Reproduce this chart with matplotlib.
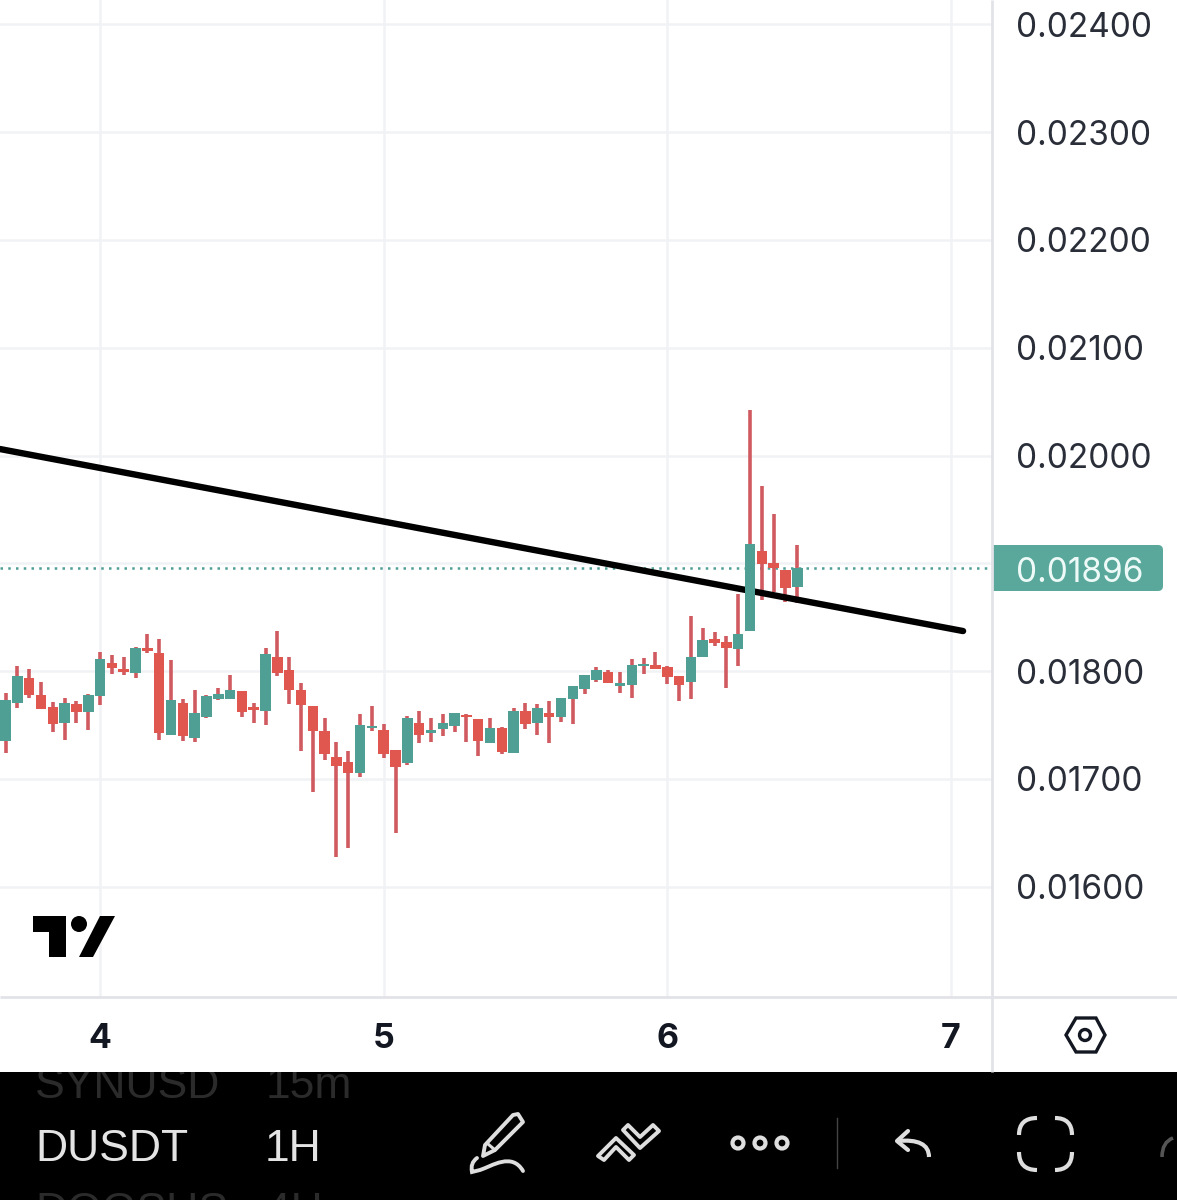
import matplotlib
matplotlib.use('Agg')
import matplotlib.pyplot as plt
from matplotlib.patches import Polygon, Circle, Rectangle, FancyBboxPatch
from matplotlib.path import Path
from matplotlib.patches import PathPatch

# 1H candles, first one is 8 hours before day 4
opens = [17.353, 17.700, 17.935, 17.774, 17.662, 17.514, 17.690, 17.616, 17.768, 18.077, 18.018, 17.981,
         18.213, 18.170, 17.402, 17.706, 17.378, 17.570, 17.740, 17.740, 17.814, 17.665, 17.625, 18.130,
         18.009, 17.823, 17.678, 17.443, 17.204, 17.155, 17.056, 17.474, 17.452, 17.263, 17.146, 17.520,
         17.421, 17.464, 17.492, 17.591, 17.554, 17.334, 17.474, 17.235, 17.628, 17.514, 17.610, 17.573,
         17.743, 17.836, 17.916, 17.993, 17.860, 17.873, 18.043, 18.052, 18.037, 17.950, 17.898, 18.130,
         18.297, 18.269, 18.204, 18.371, 19.114, 19.002, 18.937, 18.780]
highs = [17.799, 18.046, 18.015, 17.901, 17.712, 17.746, 17.721, 17.786, 18.179, 18.145, 18.130, 18.222,
         18.340, 18.297, 18.102, 17.737, 17.823, 17.774, 17.839, 17.959, 17.814, 17.703, 18.213, 18.374,
         18.130, 17.891, 17.678, 17.560, 17.341, 17.257, 17.604, 17.672, 17.511, 17.263, 17.579, 17.628,
         17.563, 17.597, 17.613, 17.597, 17.554, 17.563, 17.483, 17.653, 17.703, 17.690, 17.721, 17.749,
         17.860, 17.962, 18.034, 18.009, 17.993, 18.111, 18.120, 18.179, 18.043, 17.950, 18.510, 18.399,
         18.362, 18.325, 18.715, 20.422, 19.717, 19.457, 18.937, 19.169]
lows = [17.242, 17.656, 17.752, 17.650, 17.437, 17.359, 17.514, 17.452, 17.681, 17.969, 17.962, 17.938,
        18.167, 17.359, 17.402, 17.353, 17.344, 17.563, 17.734, 17.737, 17.573, 17.514, 17.495, 17.956,
        17.690, 17.260, 16.880, 17.177, 16.276, 16.360, 17.013, 17.446, 17.192, 16.499, 17.130, 17.328,
        17.344, 17.396, 17.437, 17.344, 17.208, 17.328, 17.232, 17.235, 17.464, 17.402, 17.328, 17.523,
        17.511, 17.786, 17.894, 17.888, 17.792, 17.749, 17.972, 18.015, 17.879, 17.718, 17.740, 18.130,
        18.232, 17.842, 18.046, 18.371, 18.659, 18.733, 18.640, 18.631]
closes = [17.731, 17.953, 17.774, 17.650, 17.505, 17.706, 17.622, 17.774, 18.111, 18.031, 17.993, 18.216,
          18.188, 17.421, 17.731, 17.396, 17.613, 17.768, 17.783, 17.823, 17.622, 17.641, 18.154, 17.978,
          17.820, 17.684, 17.446, 17.226, 17.115, 17.053, 17.501, 17.492, 17.232, 17.109, 17.563, 17.406,
          17.449, 17.520, 17.613, 17.570, 17.353, 17.471, 17.248, 17.628, 17.505, 17.656, 17.576, 17.749,
          17.860, 17.962, 18.009, 17.888, 17.885, 18.052, 18.061, 18.015, 17.947, 17.873, 18.130, 18.288,
          18.260, 18.213, 18.343, 19.179, 18.993, 18.956, 18.770, 18.956]

trend_days = [3.647, 7.043]
trend_prices = [0.02006, 0.018371]
last_price = 0.01896
price_ticks = [0.016, 0.017, 0.018, 0.019, 0.020, 0.021, 0.022, 0.023, 0.024]
price_labels = ['0.01600', '0.01700', '0.01800', '', '0.02000', '0.02100', '0.02200', '0.02300', '0.02400']
day_ticks = [4, 5, 6, 7]

TEAL = '#4f9f95'
RED = '#e0574f'
WICK = '#cf5a60'
GRID = '#f1f2f5'
BORDER = '#e2e3e8'
ICON = '#dedede'

plt.rcParams['font.family'] = ['Inter', 'DejaVu Sans']
fig = plt.figure(figsize=(11.77, 12), dpi=100)

# main chart
ax = fig.add_axes([0, 1 - 997 / 1200, 992 / 1177, 997 / 1200])
ax.set_xlim(3.647, 7.145)
ax.set_ylim(0.014975, 0.024227)
ax.set_yticks(price_ticks)
ax.set_yticklabels(price_labels, fontsize=24, color='#2a2e39')
ax.yaxis.tick_right()
ax.set_xticks(day_ticks)
ax.set_xticklabels(day_ticks, fontsize=24.5, fontweight='bold', color='#131722')
ax.tick_params(axis='y', length=0, pad=17)
ax.tick_params(axis='x', length=0, pad=19)
ax.grid(True, color=GRID, linewidth=1.8)
ax.set_axisbelow(True)
for s in ax.spines.values():
    s.set_visible(False)

for i in range(len(opens)):
    day = 4 + (i - 8) / 24
    o = opens[i] / 1000
    c = closes[i] / 1000
    color = TEAL if c >= o else RED
    ax.vlines(day, lows[i] / 1000, highs[i] / 1000, color=WICK, linewidth=2.6, zorder=3)
    ax.bar(day, abs(c - o), bottom=min(o, c), width=0.037, color=color, zorder=4)

ax.axhline(last_price, color=TEAL, linewidth=1.8, linestyle=(0, (1, 2.1)), zorder=2)
ax.plot(trend_days, trend_prices, color='black', linewidth=4.6, zorder=3.5, solid_capstyle='round')

# everything around the chart is placed in pixels of the screenshot
ui = fig.add_axes([0, 0, 1, 1], zorder=10)
ui.set_xlim(0, 1177)
ui.set_ylim(1200, 0)
ui.axis('off')

ui.plot([992, 992], [0, 1072], color=BORDER, linewidth=2, solid_capstyle='butt')
ui.plot([0, 1177], [997, 997], color=BORDER, linewidth=2, solid_capstyle='butt')

# last price tag
ui.add_patch(FancyBboxPatch((997, 549), 162, 38, boxstyle='round,pad=4,rounding_size=5', color='#5aa89b', linewidth=0))
ui.add_patch(Rectangle((993, 545), 6, 46, color='#5aa89b', linewidth=0))
ui.text(1016, 569, '0.01896', fontsize=24, color='#eefaf7', va='center_baseline')

# logo
ui.add_patch(Polygon([(33, 916), (66, 916), (66, 957), (49, 957), (49, 932), (33, 932)], color='black', linewidth=0))
ui.add_patch(Circle((79, 924), 8, color='black', linewidth=0))
ui.add_patch(Polygon([(100, 916), (115, 916), (93, 957), (79, 957)], color='black', linewidth=0))

# settings hexagon
ui.add_patch(Polygon([(1066, 1035), (1076, 1018), (1096, 1018), (1105, 1035), (1096, 1052), (1076, 1052)],
                     fill=False, edgecolor='#131722', linewidth=2.4))
ui.add_patch(Circle((1085, 1035), 5.5, fill=False, edgecolor='#131722', linewidth=2.4))

# bottom toolbar
bar = Rectangle((0, 1072), 1177, 128, color='black', linewidth=0)
ui.add_patch(bar)
for label, x, y, col in [('SYNUSD', 35, 1098, '#2b2b2b'), ('15m', 266, 1098, '#2b2b2b'),
                         ('DUSDT', 35, 1161, '#e4e4e4'), ('1H', 265, 1161, '#e4e4e4'),
                         ('DOGSUS', 35, 1224, '#2b2b2b'), ('4H', 266, 1224, '#2b2b2b')]:
    t = ui.text(x, y, label, fontsize=32, color=col, va='baseline', clip_on=True, family='Liberation Sans')
    t.set_clip_path(bar)

ui.add_patch(Polygon([(485, 1145), (513, 1115), (518, 1114), (523, 1122), (495, 1150), (483, 1156)],
                     fill=False, edgecolor=ICON, linewidth=2.8, joinstyle='round'))
ui.plot([488, 495], [1144, 1150], color=ICON, linewidth=2.2)
squiggle = Path([(477, 1158), (470, 1163), (472, 1172), (480, 1170), (492, 1166), (512, 1152), (523, 1171)],
                [Path.MOVETO, Path.CURVE3, Path.CURVE3, Path.LINETO, Path.CURVE4, Path.CURVE4, Path.CURVE4])
ui.add_patch(PathPatch(squiggle, fill=False, edgecolor=ICON, linewidth=2.8, capstyle='round'))

ui.add_patch(Polygon([(598, 1156), (616, 1138), (634, 1155), (629, 1160), (616, 1147), (604, 1160)],
                     fill=False, edgecolor=ICON, linewidth=2.8, joinstyle='round'))
ui.add_patch(Polygon([(623, 1130), (628, 1125), (640, 1137), (653, 1125), (659, 1131), (640, 1148)],
                     fill=False, edgecolor=ICON, linewidth=2.8, joinstyle='round'))

for x in [738, 760, 782]:
    ui.add_patch(Circle((x, 1143), 5.5, fill=False, edgecolor=ICON, linewidth=3))

ui.plot([837, 837], [1118, 1168], color='#444444', linewidth=1)

ui.plot([908, 897, 908], [1131, 1141, 1150], color=ICON, linewidth=3, solid_capstyle='round')
arrow = Path([(897, 1141), (929, 1138), (929, 1157)], [Path.MOVETO, Path.CURVE3, Path.CURVE3])
ui.add_patch(PathPatch(arrow, fill=False, edgecolor=ICON, linewidth=3))

corners = [[(1019, 1135), (1019, 1118), (1037, 1118)], [(1055, 1118), (1072, 1118), (1072, 1135)],
           [(1019, 1152), (1019, 1170), (1037, 1170)], [(1055, 1170), (1072, 1170), (1072, 1152)]]
for pts in corners:
    ui.add_patch(PathPatch(Path(pts, [Path.MOVETO, Path.CURVE3, Path.CURVE3]), fill=False, edgecolor=ICON,
                           linewidth=3))
ui.add_patch(PathPatch(Path([(1162, 1157), (1162, 1142), (1173, 1138)], [Path.MOVETO, Path.CURVE3, Path.CURVE3]),
                       fill=False, edgecolor='#555555', linewidth=2.6))

fig.savefig('out.png', dpi=100)
